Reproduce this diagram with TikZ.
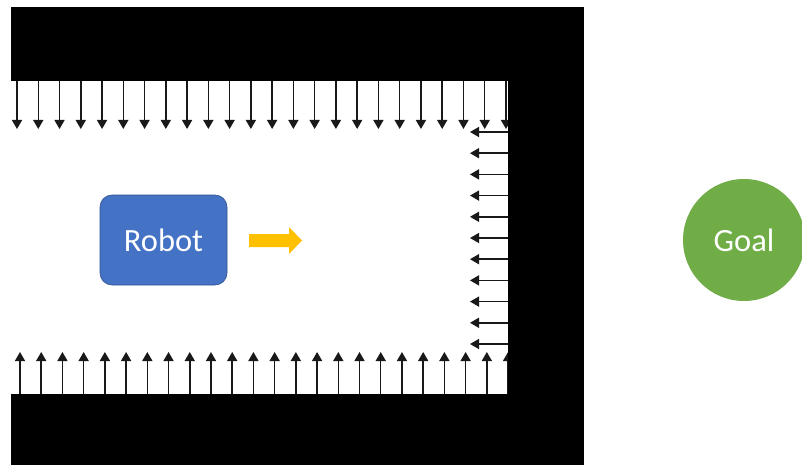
\documentclass[tikz,border=0pt]{standalone}
\usepackage{fontspec}
\setmainfont{Carlito}
\usetikzlibrary{arrows.meta}
\definecolor{robotblue}{HTML}{4472C4}
\definecolor{robotedge}{HTML}{2F528F}
\definecolor{goalgreen}{HTML}{70AD47}
\definecolor{moveyellow}{HTML}{FFC000}
\tikzset{
  force/.style={draw=black!90, line width=1.5pt, -{Triangle[width=10pt,length=9pt]}},
  robotbox/.style={fill=robotblue, draw=robotedge, line width=0.6pt, rounded corners=12pt,
    minimum width=127pt, minimum height=90pt, text=white, font=\fontsize{32.5}{32.5}\selectfont},
  goalcircle/.style={circle, fill=goalgreen, minimum size=122pt, inner sep=0pt,
    text=white, font=\fontsize{32.5}{32.5}\selectfont},
}
\begin{document}
\begin{tikzpicture}[x=1pt,y=-1pt]
  \useasboundingbox (0,0) rectangle (802,465);
  \begin{scope}
    \clip (0,0) rectangle (802,465);
    % repulsive forces from the upper wall
    \foreach \i in {0,...,23}
      \draw[force] ({17+21.26*\i},81) -- ({17+21.26*\i},129);
    % repulsive forces from the lower wall
    \foreach \i in {0,...,23}
      \draw[force] ({20+21.22*\i},394) -- ({20+21.22*\i},352);
    % repulsive forces from the end wall
    \foreach \j in {0,...,10}
      \draw[force] (508,{132+21.2*\j}) -- (470,{132+21.2*\j});
    % corridor walls: upper, end and lower
    \fill[black] (11,7) rectangle (584,81);
    \fill[black] (508,80) rectangle (584,395);
    \fill[black] (11,394) rectangle (584,466);
    % robot and its heading
    \node[robotbox] (robot) at (163.5,240) {Robot};
    \fill[moveyellow] (249,234) -- (289,234) -- (289,227) -- (302,240.5) -- (289,254)
      -- (289,247) -- (249,247) -- cycle;
    % goal
    \node[goalcircle] (goal) at (744,240) {Goal};
  \end{scope}
\end{tikzpicture}
\end{document}
